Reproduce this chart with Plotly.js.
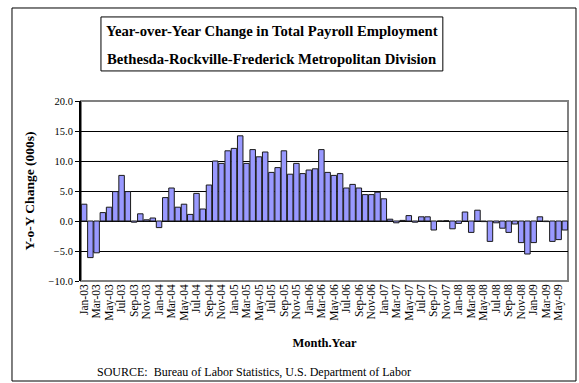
<!DOCTYPE html>
<html>
<head>
<meta charset="utf-8">
<script src="https://cdn.plot.ly/plotly-3.0.1.min.js"></script>
<style>html,body{margin:0;padding:0;background:#fff;}#chart{width:579px;height:383px;}</style>
</head>
<body>
<div id="chart"></div>
<script>
const months = [
 "Jan-03","Feb-03","Mar-03","Apr-03","May-03","Jun-03","Jul-03","Aug-03","Sep-03","Oct-03","Nov-03","Dec-03",
 "Jan-04","Feb-04","Mar-04","Apr-04","May-04","Jun-04","Jul-04","Aug-04","Sep-04","Oct-04","Nov-04","Dec-04",
 "Jan-05","Feb-05","Mar-05","Apr-05","May-05","Jun-05","Jul-05","Aug-05","Sep-05","Oct-05","Nov-05","Dec-05",
 "Jan-06","Feb-06","Mar-06","Apr-06","May-06","Jun-06","Jul-06","Aug-06","Sep-06","Oct-06","Nov-06","Dec-06",
 "Jan-07","Feb-07","Mar-07","Apr-07","May-07","Jun-07","Jul-07","Aug-07","Sep-07","Oct-07","Nov-07","Dec-07",
 "Jan-08","Feb-08","Mar-08","Apr-08","May-08","Jun-08","Jul-08","Aug-08","Sep-08","Oct-08","Nov-08","Dec-08",
 "Jan-09","Feb-09","Mar-09","Apr-09","May-09","Jun-09"
];
const yoyChange = [
 2.8,-6.1,-5.3,1.4,2.3,4.9,7.6,4.9,-0.2,1.2,0.2,0.5,
 -1.1,3.9,5.5,2.3,2.8,1.1,4.6,2.0,6.0,10.0,9.6,11.7,
 12.1,14.2,9.6,11.9,10.7,11.5,8.1,8.9,11.7,7.8,9.6,7.9,
 8.5,8.7,11.9,8.1,7.6,7.9,5.5,6.1,5.5,4.4,4.4,4.8,
 3.7,0.3,-0.3,0.1,0.9,-0.2,0.7,0.7,-1.5,0.0,0.05,-1.3,
 -0.4,1.5,-1.9,1.8,-0.1,-3.4,-0.3,-1.2,-1.9,-0.5,-3.6,-5.5,
 -3.6,0.7,-0.1,-3.4,-3.1,-1.5
];
const tickLabels = months.filter((m, i) => i % 2 === 0);
const yTicks = [-10, -5, 0, 5, 10, 15, 20];
const titleLines = ["Year-over-Year Change in Total Payroll Employment",
                    "Bethesda-Rockville-Frederick Metropolitan Division"];
const sourceText = "SOURCE:  Bureau of Labor Statistics, U.S. Department of Labor";

const serif = "'Liberation Serif', 'Times New Roman', serif";

const trace = {
  type: 'bar',
  x: months,
  y: yoyChange,
  marker: {color: '#9999FF', line: {color: '#1a1a1a', width: 1}},
  hoverinfo: 'x+y'
};

const layout = {
  width: 579, height: 383,
  margin: {l: 81, r: 11, t: 101, b: 102},
  paper_bgcolor: '#fff', plot_bgcolor: '#fff',
  showlegend: false,
  bargap: 0.12,
  font: {family: serif, color: '#000', size: 10},
  xaxis: {
    type: 'category',
    range: [-0.5, months.length - 0.5],
    tickmode: 'array', tickvals: tickLabels, ticktext: tickLabels,
    tickangle: -90, ticks: '', showgrid: false, showline: false, zeroline: false,
    tickfont: {family: serif, size: 11.5, color: '#000'},
    title: {text: '<b>Month.Year</b>', font: {family: serif, size: 12.5, color: '#000'}, standoff: 18},
    fixedrange: true
  },
  xaxis2: {
    overlaying: 'x', anchor: 'free', position: 1/3,
    type: 'linear', range: [-0.5, months.length - 0.5],
    tickmode: 'linear', tick0: -0.5, dtick: 2,
    ticks: 'outside', ticklen: 4, tickcolor: '#000', tickwidth: 1,
    showticklabels: false, showgrid: false, showline: false, zeroline: false
  },
  yaxis: {
    range: [-10, 20], tickmode: 'array', tickvals: yTicks,
    tickformat: '.1f',
    showgrid: true, gridcolor: '#000', gridwidth: 1,
    zeroline: true, zerolinecolor: '#000', zerolinewidth: 1,
    showline: true, linecolor: '#000', linewidth: 2,
    ticks: 'outside', ticklen: 4, tickcolor: '#000',
    tickfont: {family: serif, size: 10.5, color: '#000'},
    title: {text: '<b>Y-o-Y Change (000s)</b>', font: {family: serif, size: 13.5, color: '#000'}, standoff: 11},
    fixedrange: true
  },
  shapes: [
    {type: 'rect', xref: 'paper', yref: 'paper', x0: 0, x1: 1, y0: 0, y1: 1,
     line: {color: '#808080', width: 2}, layer: 'below'},
    {type: 'rect', xref: 'paper', yref: 'paper', x0: -0.1417, x1: 1.0164, y0: -0.5556, y1: 1.5167,
     line: {color: '#000', width: 1}},
    {type: 'rect', xref: 'paper', yref: 'paper', x0: 0.041, x1: 0.743, y0: 1.167, y1: 1.467,
     line: {color: '#000', width: 1}}
  ],
  annotations: [
    {xref: 'paper', yref: 'paper', x: 0.392, y: 1.389, xanchor: 'center', yanchor: 'middle',
     text: '<b>' + titleLines[0] + '</b>', showarrow: false, font: {family: serif, size: 14.7, color: '#000'}},
    {xref: 'paper', yref: 'paper', x: 0.392, y: 1.233, xanchor: 'center', yanchor: 'middle',
     text: '<b>' + titleLines[1] + '</b>', showarrow: false, font: {family: serif, size: 14.7, color: '#000'}},
    {xref: 'paper', yref: 'paper', x: (95 - 81) / 487, y: (281 - 372) / 180, xanchor: 'left', yanchor: 'middle',
     text: sourceText, showarrow: false, font: {family: serif, size: 12, color: '#000'}}
  ]
};

Plotly.newPlot('chart', [trace], layout, {staticPlot: true, displayModeBar: false});
</script>
</body>
</html>
